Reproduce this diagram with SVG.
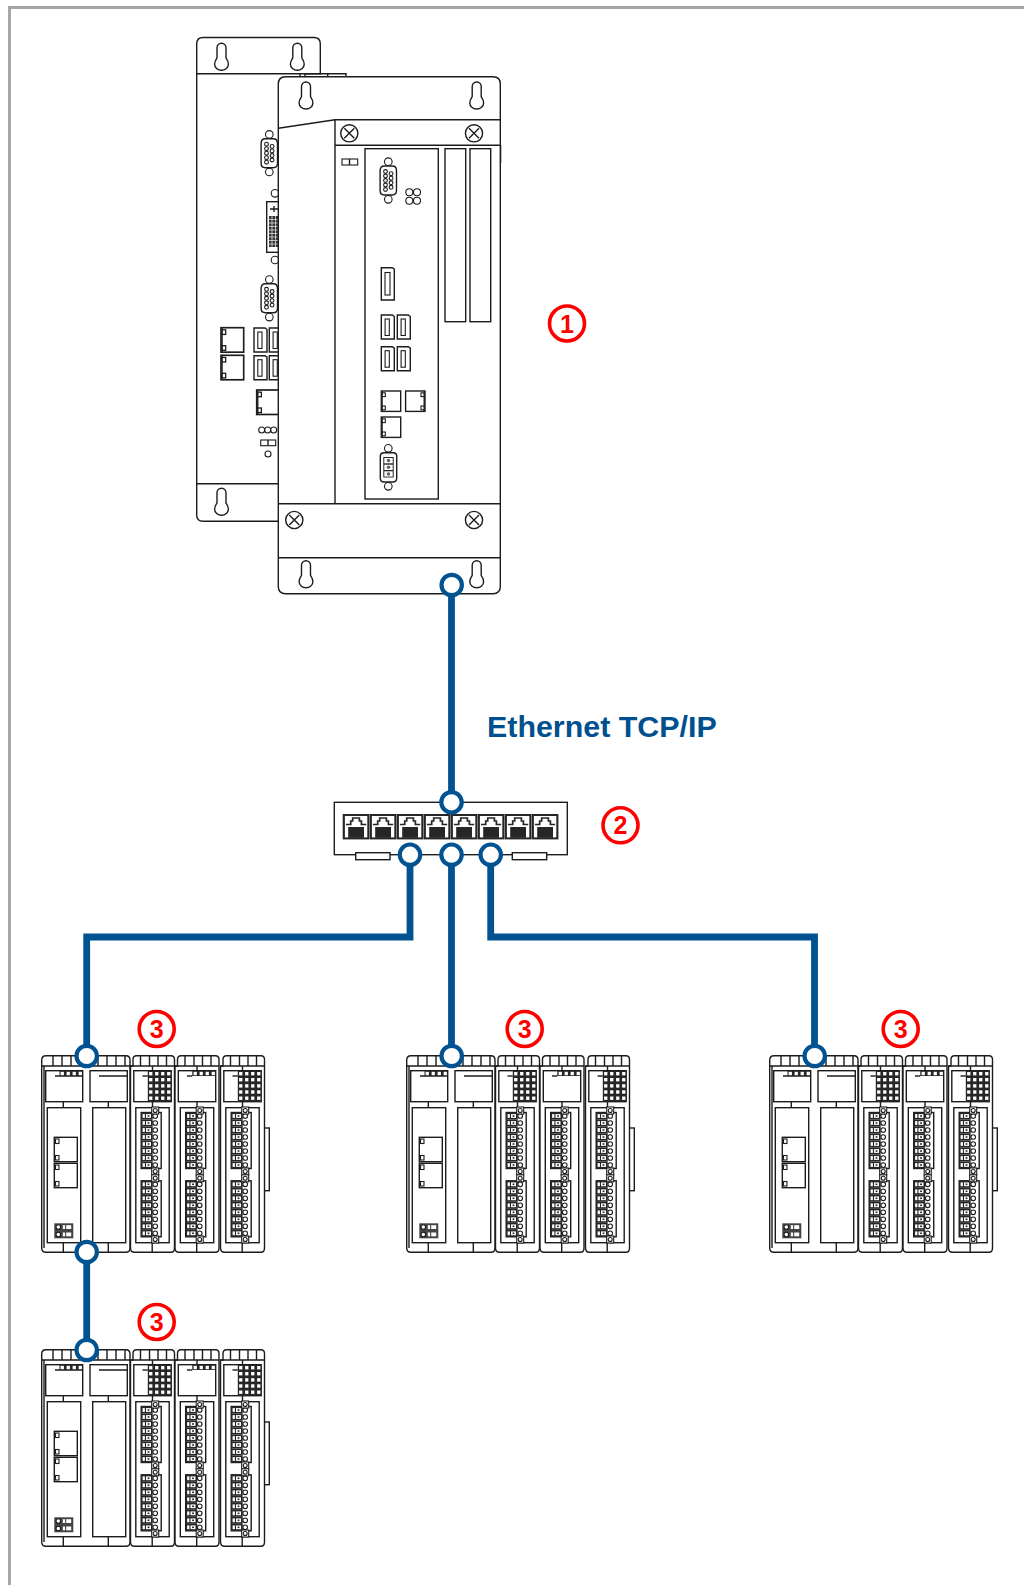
<svg xmlns="http://www.w3.org/2000/svg" width="1024" height="1585" viewBox="0 0 1024 1585">
<style>
.l{fill:none;stroke:#1c1c1c;stroke-width:1.4}
.w{fill:#fff;stroke:#1c1c1c;stroke-width:1.4}
.t{fill:#fff;stroke:#1c1c1c;stroke-width:1.1}
.k{fill:#262626}
.wh{fill:#fff}
.cable{fill:none;stroke:#005291;stroke-width:6.8}
.dot{fill:#fff;stroke:#005291;stroke-width:4.2}
.mk{fill:#fff;stroke:#f00;stroke-width:3.6}
.n{font:bold 25px "Liberation Sans",Arial,sans-serif;fill:#f00;text-anchor:middle}
.lab{font:bold 30.400px "Liberation Sans",Arial,sans-serif;fill:#00508f}
</style>
<defs>
<path id="key" class="w" d="M-4.500 4.500a4.500 4.500 0 0 1 9 0V14.500c0 1.200 2.400 2.500 2.400 6.500a6.900 6 0 0 1-13.800 0c0-4 2.400-5.300 2.400-6.500z"/>
<g id="screw"><circle class="w" r="8.600"/><path class="l" d="M-5 -5L5 5M-5 5L5 -5"/></g>
<g id="dsub">
<circle class="t" cy="-18.800" r="3.800"/><circle class="t" cy="18.800" r="3.800"/>
<path class="w" d="M-4 -14.500L4 -14.500Q8.200 -14.500 8.200 -10V10Q8.200 14.500 4 14.500H-4Q-8.200 14.500-8.200 10V-10Q-8.200 -14.500-4 -14.500z"/>
<g class="t"><circle cx="-2.800" cy="-9" r="1.900"/><circle cx="-2.800" cy="-4.500" r="1.900"/><circle cx="-2.800" cy="0" r="1.900"/><circle cx="-2.800" cy="4.500" r="1.900"/><circle cx="-2.800" cy="9" r="1.900"/><circle cx="2.800" cy="-6.800" r="1.900"/><circle cx="2.800" cy="-2.300" r="1.900"/><circle cx="2.800" cy="2.300" r="1.900"/><circle cx="2.800" cy="6.800" r="1.900"/></g>
</g>
<g id="usb"><path class="w" d="M0 0H11L13 1.500V24H0z"/><rect class="t" x="3.800" y="4" width="4.200" height="16.500"/></g>
<g id="rj"><rect class="w" width="19.400" height="20.400"/><rect class="k" x="0" y="0" width="1.500" height="20.400"/><rect class="t" x="1" y="1.800" width="3" height="3.800"/><rect class="t" x="1" y="15" width="3" height="3.800"/></g>
<g id="port"><rect class="k" width="26.700" height="25.400"/><rect class="wh" x="2.200" y="2" width="22.400" height="21.400"/><rect class="k" x="5.500" y="13" width="15.800" height="10.800"/><path d="M3.200 10.500H8V7H10V4H16.700V7H18.700V10.500H23.500" fill="#fff" stroke="#262626" stroke-width="1.700"/></g>
<g id="row"><rect class="k" x="0" y="-3.500" width="11.500" height="7"/><rect class="wh" x="1.400" y="-1.900" width="2.300" height="3.800"/><rect class="wh" x="4.800" y="-1.900" width="5" height="3.800"/><rect class="k" x="6.400" y="-.8" width="1.800" height="1.600"/><circle class="t" cx="14" r="2.300"/></g>
<g id="block"><rect class="w" x="0" y="-3.500" width="20" height="56"/><use href="#row" y="0"/><use href="#row" y="7"/><use href="#row" y="14"/><use href="#row" y="21"/><use href="#row" y="28"/><use href="#row" y="35"/><use href="#row" y="42"/><use href="#row" y="49"/></g>
<g id="sq"><rect class="t" x="-3.500" y="-3.500" width="7" height="7"/><circle class="t" r="2"/></g>
<g id="cellRow"><rect class="wh" x="1.300" y="1" width="3.300" height="3.400"/><rect class="wh" x="7.300" y="1" width="3.300" height="3.400"/><rect class="wh" x="13.300" y="1" width="3.300" height="3.400"/><rect class="wh" x="19.300" y="1" width="3.300" height="3.400"/></g>
<g id="ioBase">
<path class="w" d="M133.500 1066V1059.500Q133.500 1055.700 137 1055.700H171.500Q175 1055.700 175 1059.500V1248Q175 1252.300 171.500 1252.300H135Q131 1252.300 131 1248V1066z"/>
<path class="l" d="M131 1066H175M141 1056V1066M150 1056V1066M158.500 1056V1066M167 1056V1066"/>
<rect class="l" x="134.300" y="1070.700" width="37.400" height="31"/>
<path class="l" d="M153 1066V1070.700M153 1101.700V1107.700M152.700 1242.700V1252.300"/>
<rect class="l" x="136.300" y="1107.700" width="33.400" height="135"/>
<use href="#block" x="141.700" y="1116"/><use href="#block" x="141.700" y="1184.300"/>
<use href="#sq" x="155.700" y="1110.500"/><use href="#sq" x="155.700" y="1171.500"/><use href="#sq" x="155.700" y="1178.300"/><use href="#sq" x="155.700" y="1239.500"/>
</g>
<g id="gridFull"><rect class="k" x="148.300" y="1071" width="23.400" height="30.700"/><use href="#cellRow" x="148.300" y="1071"/><use href="#cellRow" x="148.300" y="1077"/><use href="#cellRow" x="148.300" y="1083.200"/><use href="#cellRow" x="148.300" y="1089.300"/><use href="#cellRow" x="148.300" y="1095.500"/><path class="l" d="M143 1076H148.300"/></g>
<g id="station">
<rect class="l" x="264" y="1128" width="5.300" height="62.700"/>
<path class="w" d="M41.700 1066V1060Q41.700 1055.700 46 1055.700H126Q130 1055.700 130 1060V1248Q130 1252.300 126 1252.300H46Q41.700 1252.300 41.700 1248z"/>
<path class="l" d="M41.700 1066H130M44 1066V1248M53 1056V1066M62 1056V1066M71 1056V1066M80 1056V1066M89 1056V1066M98 1056V1066M107 1056V1066M116 1056V1066M125 1056V1066"/>
<rect class="l" x="45.700" y="1070.700" width="37" height="31"/><rect class="l" x="90" y="1070.700" width="37.300" height="31"/>
<rect class="l" x="47.300" y="1107.700" width="33.400" height="135"/><rect class="l" x="92.700" y="1107.700" width="33" height="135"/>
<path class="l" d="M63.300 1101.700V1107.700M63.300 1242.700V1252.300M108.300 1101.700V1107.700M108.300 1242.700V1252.300M55 1076H82.700M99 1076H127.300"/>
<rect class="k" x="59.500" y="1071" width="23.200" height="5"/><use href="#cellRow" x="59.300" y="1070.800"/>
<g><rect class="w" x="54.300" y="1137.300" width="23" height="24.400"/><rect class="t" x="55.500" y="1139" width="3.500" height="4.500"/><rect class="t" x="55.500" y="1155.500" width="3.500" height="4.500"/><rect class="w" x="54.300" y="1163.300" width="23" height="24.400"/><rect class="t" x="55.500" y="1165" width="3.500" height="4.500"/><rect class="t" x="55.500" y="1181.500" width="3.500" height="4.500"/></g>
<rect x="54.300" y="1223.300" width="19" height="15" fill="#444"/><circle class="t" cx="58.300" cy="1227" r="2.300"/><circle class="t" cx="58.300" cy="1234.500" r="2.300"/><rect class="wh" x="62.800" y="1225.200" width="2.300" height="3.800"/><rect class="wh" x="66.200" y="1225.200" width="5" height="3.800"/><rect class="wh" x="62.800" y="1232.500" width="2.300" height="3.800"/><rect class="wh" x="66.200" y="1232.500" width="5" height="3.800"/>
<g transform="translate(-.5 0)"><use href="#ioBase"/><use href="#gridFull"/></g>
<g transform="translate(44 0)"><use href="#ioBase"/><rect class="k" x="148.300" y="1071" width="23.400" height="5"/><use href="#cellRow" x="148.300" y="1070.800"/><path class="l" d="M143 1076H148.300"/></g>
<g transform="translate(89.500 0)"><use href="#ioBase"/><use href="#gridFull"/></g>
</g>
</defs>

<rect width="1024" height="1585" fill="#fff"/>
<path id="frame" d="M9.500 1585V7.500H1024" fill="none" stroke="#a6a6a6" stroke-width="3"/>

<g id="node-1">
<g id="rear-unit">
<path class="w" d="M305 73.700H346V76.700H305z"/><path class="l" d="M327.700 73.700V76.700"/>
<path class="w" d="M196.700 73.700V44Q196.700 37.500 203 37.500H314Q320.300 37.500 320.300 44V73.700z"/>
<path class="w" d="M196.700 73.700H300V521.300H203Q196.700 521.300 196.700 515z"/>
<path class="l" d="M196.700 483.700H280"/>
<use href="#key" x="221.500" y="43.300"/><use href="#key" x="297.300" y="43.300"/><use href="#key" x="221.500" y="488.300"/>
<use href="#dsub" x="269.300" y="153.200"/><use href="#dsub" x="269.300" y="298.300"/>
<circle class="t" cx="275" cy="193.300" r="3.800"/><circle class="t" cx="275" cy="260" r="3.800"/>
<rect class="w" x="266.700" y="201.700" width="20" height="50.600"/><rect x="269" y="216" width="9" height="31" fill="#333"/>
<path d="M269 219.500H278M269 223H278M269 226.500H278M269 230H278M269 233.500H278M269 237H278M269 240.500H278M269 244H278M272 216V247M275.500 216V247" stroke="#ddd" stroke-width=".8"/>
<path class="l" d="M270 209H278M274 206V212"/>
<use href="#rj" transform="translate(221 327.700) scale(1.170 1.200)"/><use href="#rj" transform="translate(221 355.300) scale(1.170 1.200)"/>
<use href="#usb" x="254" y="328"/><use href="#usb" x="269.300" y="328"/><use href="#usb" x="254" y="355.700"/><use href="#usb" x="269.300" y="355.700"/>
<use href="#rj" transform="translate(256.700 390) scale(1.170 1.200)"/>
<circle class="t" cx="261.700" cy="430" r="3"/><circle class="t" cx="267.700" cy="430" r="3"/><circle class="t" cx="273.700" cy="430" r="3"/>
<rect class="t" x="260.700" y="440" width="15" height="5.700"/><path class="l" d="M268 440V445.700"/>
<circle class="t" cx="268" cy="454" r="3"/>
</g>
<g id="front-unit">
<path class="w" d="M278.300 84Q278.300 76.700 285.500 76.700H493Q500.300 76.700 500.300 84V586.500Q500.300 593.700 493 593.700H285.500Q278.300 593.700 278.300 586.500z"/>
<path class="l" d="M278.300 128.300L335 119.700H500.300M335 145.300H500.300M335 119.700V503.700M278.300 503.700H500.300M278.300 557.700H500.300"/>
<path d="M501.500 145V163" stroke="#bbb" stroke-width="1"/>
<use href="#key" x="306" y="82"/><use href="#key" x="476.700" y="82"/><use href="#key" x="306" y="560.700"/><use href="#key" x="476.700" y="560.700"/>
<use href="#screw" x="349.300" y="133.300"/><use href="#screw" x="474" y="133.300"/><use href="#screw" x="294.300" y="520"/><use href="#screw" x="474" y="520"/>
<rect class="l" x="365" y="148.700" width="73.300" height="350.300"/>
<rect class="l" x="445" y="148.700" width="20.700" height="173"/><rect class="l" x="470" y="148.700" width="20.700" height="173"/>
<rect class="t" x="342" y="159" width="15.700" height="6"/><path class="l" d="M349.500 159V165"/>
<use href="#dsub" x="388.300" y="180.500"/>
<circle class="t" cx="409.300" cy="192.300" r="3.500"/><circle class="t" cx="417" cy="192.300" r="3.500"/><circle class="t" cx="409.300" cy="200.700" r="3.500"/><circle class="t" cx="417" cy="200.700" r="3.500"/>
<path class="w" d="M381.300 267.700H392.300L394.300 269.200V300H381.300z"/><rect class="t" x="385" y="272.500" width="5" height="22.500"/>
<use href="#usb" x="381.300" y="315"/><use href="#usb" x="397.300" y="315"/><use href="#usb" x="381.300" y="346.700"/><use href="#usb" x="397.300" y="346.700"/>
<use href="#rj" x="381.300" y="391"/><use href="#rj" transform="translate(425 391) scale(-1 1)"/><use href="#rj" x="381.300" y="417"/>
<circle class="t" cx="388.300" cy="448.300" r="3.800"/><circle class="t" cx="388.300" cy="486.300" r="3.800"/>
<path class="w" d="M384 452.700H393Q396.700 452.700 396.700 456V478Q396.700 482 393 482H384Q380.300 482 380.300 478V456Q380.300 452.700 384 452.700z"/>
<rect class="k" x="383.300" y="457" width="10.400" height="20.500"/><rect class="wh" x="384.300" y="458" width="8.400" height="5.300"/><rect class="wh" x="384.300" y="464.700" width="8.400" height="5.300"/><rect class="wh" x="384.300" y="471.300" width="8.400" height="5.300"/><circle cx="388.500" cy="460.600" r="1.800" fill="#666"/><circle cx="388.500" cy="467.300" r="1.800" fill="#666"/><circle cx="388.500" cy="474" r="1.800" fill="#666"/>
</g>
</g>

<g id="node-2">
<rect class="w" x="334.300" y="802.300" width="233" height="52.400"/>
<rect class="w" x="355.700" y="852.700" width="34.300" height="7"/><rect class="w" x="512.300" y="852.700" width="34.400" height="7"/>
<use href="#port" x="342.700" y="814"/><use href="#port" x="369.700" y="814"/><use href="#port" x="396.700" y="814"/><use href="#port" x="423.700" y="814"/><use href="#port" x="450.700" y="814"/><use href="#port" x="477.700" y="814"/><use href="#port" x="504.700" y="814"/><use href="#port" x="531.700" y="814"/>
</g>

<g id="node-3a"><use href="#station"/></g>
<g id="node-3b"><use href="#station" x="365"/></g>
<g id="node-3c"><use href="#station" x="728"/></g>
<g id="node-3d"><use href="#station" y="294"/></g>

<g id="connectors">
<path class="cable" d="M451.500 585V802"/>
<path class="cable" d="M410 855V937H86.700V1056.700"/>
<path class="cable" d="M451.500 855V1056.700"/>
<path class="cable" d="M490.700 855V937H814.500V1056.700"/>
<path class="cable" d="M86.700 1251.700V1350.700"/>
<circle class="dot" cx="451.700" cy="585" r="10.200"/><circle class="dot" cx="451.500" cy="802.300" r="10.200"/>
<circle class="dot" cx="410" cy="854.700" r="10.200"/><circle class="dot" cx="451.500" cy="854.700" r="10.200"/><circle class="dot" cx="490.700" cy="854.700" r="10.200"/>
<circle class="dot" cx="86.700" cy="1056" r="10.200"/><circle class="dot" cx="451.700" cy="1056" r="10.200"/><circle class="dot" cx="814.700" cy="1056" r="10.200"/>
<circle class="dot" cx="86.700" cy="1252" r="10.200"/><circle class="dot" cx="86.700" cy="1350" r="10.200"/>
</g>

<text class="lab" x="487" y="737.300">Ethernet TCP/IP</text>

<g id="callouts">
<circle class="mk" cx="567" cy="323.500" r="17.500"/><text class="n" x="567" y="332.500">1</text>
<circle class="mk" cx="620.500" cy="825.300" r="17.500"/><text class="n" x="620.500" y="834.300">2</text>
<circle class="mk" cx="156.700" cy="1029" r="17.500"/><text class="n" x="156.700" y="1038">3</text>
<circle class="mk" cx="524.700" cy="1029" r="17.500"/><text class="n" x="524.700" y="1038">3</text>
<circle class="mk" cx="900.700" cy="1029" r="17.500"/><text class="n" x="900.700" y="1038">3</text>
<circle class="mk" cx="156.700" cy="1322" r="17.500"/><text class="n" x="156.700" y="1331">3</text>
</g>
</svg>
